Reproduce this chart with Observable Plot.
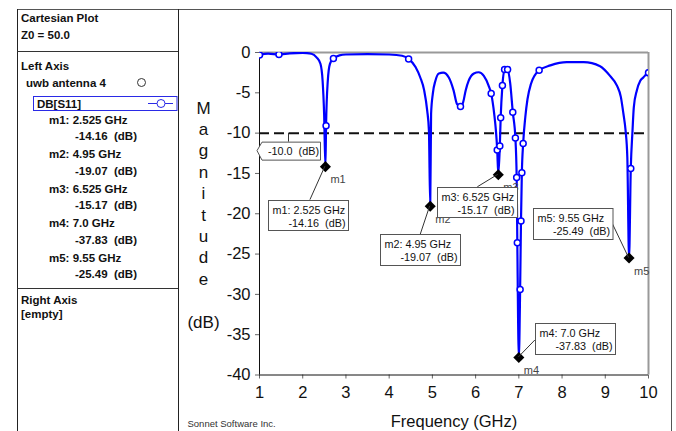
<!DOCTYPE html>
<html>
<head>
<meta charset="utf-8">
<script src="https://cdn.jsdelivr.net/npm/d3@7"></script>
<script src="https://cdn.jsdelivr.net/npm/@observablehq/plot@0.6"></script>
<style>
  html, body { margin: 0; padding: 0; background: #fff; }
  #wrap { position: relative; width: 676px; height: 431px; overflow: hidden; background: #fff; }
  #wrap > svg, #wrap > figure { position: absolute; left: 0; top: 0; margin: 0; }
</style>
</head>
<body>
<div id="wrap"></div>
<script>
// ---------------- data ----------------
const freqGHz = [
  1.0, 1.2, 1.45, 1.7, 2.0, 2.2, 2.32, 2.41, 2.46, 2.495,
  2.525, 2.54, 2.58, 2.63, 2.71, 2.85, 3.0, 3.5, 4.0, 4.3,
  4.45, 4.61, 4.72, 4.81, 4.88, 4.92, 4.95, 4.97, 5.01, 5.07,
  5.15, 5.25, 5.38, 5.49, 5.57, 5.65, 5.71, 5.77, 5.84, 5.96,
  6.07, 6.19, 6.30, 6.36, 6.43, 6.47, 6.50, 6.525, 6.56, 6.58,
  6.62, 6.67, 6.74, 6.80, 6.86, 6.92, 6.95, 6.965, 7.0, 7.03,
  7.05, 7.07, 7.10, 7.15, 7.20, 7.28, 7.47, 7.73, 8.11, 8.5,
  8.88, 9.11, 9.27, 9.36, 9.42, 9.47, 9.51, 9.55, 9.59, 9.63,
  9.66, 9.73, 9.81, 9.88, 9.97, 10.0
];
const s11dB = [
  -0.3, -0.15, -0.25, -0.1, -0.05, -0.15, -0.6, -1.4, -3.5, -7.6,
  -14.16, -9.07, -3.5, -1.4, -0.75, -0.35, -0.25, -0.2, -0.25, -0.4,
  -0.8, -1.8, -3.1, -4.7, -7.2, -9.7, -19.07, -7.6, -5.1, -3.5,
  -2.6, -2.5, -3.1, -4.7, -6.4, -6.7, -6.2, -4.7, -3.5, -2.6,
  -2.45, -2.9, -4.1, -5.1, -7.6, -9.7, -12.1, -15.17, -11.6, -8.1,
  -4.1, -2.1, -2.1, -3.8, -7.4, -10.6, -15.5, -23.6, -37.83, -29.4,
  -20.9, -14.9, -11.3, -8.0, -5.8, -3.9, -2.2, -1.6, -1.2, -1.2,
  -1.7, -2.9, -4.1, -5.5, -7.6, -9.7, -13.0, -25.49, -14.4, -9.7,
  -6.8, -4.7, -3.5, -3.1, -2.6, -2.5
];
// frequencies where the simulator's sample points are drawn (open circles)
const sampleFreqs = [1.0, 1.45, 2.54, 2.71, 4.45, 5.65, 6.36, 6.50, 6.56, 6.58, 6.62, 6.67,
  6.74, 6.86, 6.92, 6.95, 6.965, 7.03, 7.05, 7.07, 7.10, 7.47, 9.59, 10.0];

const markerNames = ["m1", "m2", "m3", "m4", "m5"];
const markerFreq  = [2.525, 4.95, 6.525, 7.0, 9.55];
const markerDb    = [-14.16, -19.07, -15.17, -37.83, -25.49];

const xTicks = [1, 2, 3, 4, 5, 6, 7, 8, 9, 10];
const yTicks = [0, -5, -10, -15, -20, -25, -30, -35, -40];
const refLevel = -10;
const refLabel = "-10.0  (dB)";

const xLabel = "Frequency (GHz)";
const yLabel = "M\na\ng\nn\ni\nt\nu\nd\ne\n\u00a0\n(dB)";
const credit = "Sonnet Software Inc.";

const panelTitle = "Cartesian Plot";
const panelZ0 = "Z0 = 50.0";
const leftAxisTitle = "Left Axis";
const projectName = "uwb antenna 4";
const traceName = "DB[S11]";
const rightAxisTitle = "Right Axis";
const rightAxisValue = "[empty]";

// ---------------- layout / style (not data) ----------------
const FONT = '"Liberation Sans", Arial, Helvetica, sans-serif';
const BLUE = "#0000ff";
// annotation box placement relative to its marker, in px
const boxLayout = [
  {bx: -57, by: 33.5, w: 80, h: 30, lx: -15, ly: 33.5},
  {bx: -50, by: 28.5, w: 80, h: 31, lx: -9.5, ly: 28.5},
  {bx: -61, by: 12.5, w: 80, h: 30, lx: -20.5, ly: 12.5},
  {bx: 16.5, by: -34, w: 80, h: 31, lx: 16.5, ly: -17},
  {bx: -95.5, by: -49.5, w: 79.5, h: 31, lx: -16.5, ly: -34.5}
];

const fmtF = d => Number.isInteger(d) ? d.toFixed(1) : String(d);
const fmtDb = d => d.toFixed(2);

const curve = freqGHz.map((f, i) => ({f, db: s11dB[i]}));
const samples = curve.filter(d => sampleFreqs.includes(d.f));
const markers = markerNames.map((name, i) => ({name, f: markerFreq[i], db: markerDb[i]}));

const annotations = (index, scales) => {
  const sx = scales.x, sy = scales.y;
  const g = d3.create("svg:g").attr("font-family", FONT).attr("font-size", 10.8).attr("fill", "#111")
    .attr("text-anchor", "start");
  // reference level label
  const x0 = sx(xTicks[0]), y0 = sy(refLevel);
  g.append("line").attr("x1", x0 + 29.5).attr("x2", x0 + 29.5).attr("y1", y0).attr("y2", y0 + 9)
    .attr("stroke", "#333");
  g.append("path")
    .attr("d", `M${x0 - 2},${y0 + 18}L${x0 + 3},${y0 + 9.5}H${x0 + 61.5}V${y0 + 27.5}H${x0 + 3}Z`)
    .attr("fill", "white").attr("stroke", "#555");
  g.append("text").attr("x", x0 + 9).attr("y", y0 + 18.5).attr("dy", "0.35em")
    .attr("text-anchor", "start").style("white-space", "pre").text(refLabel);
  markers.forEach((m, i) => {
    const mx = sx(m.f), my = sy(m.db), L = boxLayout[i];
    g.append("line").attr("x1", mx).attr("y1", my).attr("x2", mx + L.lx).attr("y2", my + L.ly)
      .attr("stroke", "#333");
    const bx = Math.round(mx + L.bx) + 0.5, by = Math.round(my + L.by) + 0.5;
    g.append("rect").attr("x", bx).attr("y", by).attr("width", L.w).attr("height", L.h)
      .attr("fill", "white").attr("stroke", "#555");
    g.append("text").attr("x", bx + 4).attr("y", by + 10).attr("dy", "0.35em")
      .attr("text-anchor", "start").style("white-space", "pre").text(`${m.name}: ${fmtF(m.f)} GHz`);
    g.append("text").attr("x", bx + L.w - 3).attr("y", by + 22.5).attr("dy", "0.35em")
      .attr("text-anchor", "end").style("white-space", "pre").text(`${fmtDb(m.db)}  (dB)`);
  });
  return g.node();
};

const chart = Plot.plot({
  width: 676,
  height: 431,
  marginLeft: 259,
  marginRight: 28,
  marginTop: 52,
  marginBottom: 56.5,
  style: {fontFamily: FONT, background: "transparent", color: "#111"},
  x: {domain: [1, 10]},
  y: {domain: [-40, 0]},
  marks: [
    Plot.axisX({ticks: xTicks, tickSize: 4, tickPadding: 7, fontSize: 16.5, label: null, tickFormat: d => String(d)}),
    Plot.axisY({ticks: yTicks, tickSize: 4, tickPadding: 5, fontSize: 16.5, label: null, tickFormat: d => String(d)}),
    Plot.ruleY([0], {stroke: "#999", strokeWidth: 2}),
    Plot.ruleX([10], {stroke: "#999", strokeWidth: 2}),
    Plot.ruleX([1], {stroke: "#111"}),
    Plot.ruleY([-40], {stroke: "#111"}),
    Plot.ruleY([refLevel], {stroke: "#111", strokeWidth: 2, strokeDasharray: "10,5"}),
    Plot.line(curve, {x: "f", y: "db", stroke: BLUE, strokeWidth: 2.2, curve: "monotone-x", clip: true}),
    Plot.dot(samples, {x: "f", y: "db", r: 3, fill: "white", stroke: BLUE, strokeWidth: 1.5, clip: true}),
    Plot.dot(markers, {x: "f", y: "db", symbol: "diamond2", r: 5, fill: "black", stroke: "none"}),
    Plot.text(markers, {x: "f", y: "db", text: "name", dx: 5, dy: 13, textAnchor: "start", fontSize: 11, fill: "#444"}),
    annotations,
    Plot.text([yLabel], {text: d => d, frameAnchor: "left", dx: -56, textAnchor: "middle", lineAnchor: "middle",
      lineHeight: 1.26, fontSize: 17, fill: "#111"}),
    Plot.text([xLabel], {text: d => d, frameAnchor: "bottom", dy: 47, textAnchor: "middle", lineAnchor: "middle",
      fontSize: 16.5, fill: "#111"}),
    Plot.text([credit], {text: d => d, frameAnchor: "bottom-left", dx: -72, dy: 49, textAnchor: "start",
      lineAnchor: "middle", fontSize: 9.5, fill: "#333"})
  ]
});

const wrap = document.getElementById("wrap");
wrap.appendChild(chart);
d3.select(chart).selectAll('g[aria-label="y-axis tick"], g[aria-label="x-axis tick"]').attr("stroke", "#666");

// ---------------- left panel (legend) ----------------
const ov = d3.select(wrap).append("svg")
  .attr("width", 676).attr("height", 431)
  .style("pointer-events", "none");
const line = (x1, y1, x2, y2, c) => ov.append("line").attr("x1", x1).attr("y1", y1).attr("x2", x2).attr("y2", y2)
  .attr("stroke", c).attr("stroke-width", 1);
line(17, 9.5, 672, 9.5, "#555");
line(17.5, 9, 17.5, 431, "#222");
line(178.5, 9, 178.5, 431, "#222");
line(671.5, 9, 671.5, 431, "#555");
line(17, 51.5, 178, 51.5, "#333");
line(17, 288.5, 178, 288.5, "#333");

const ptext = (t, x, y) => ov.append("text").attr("x", x).attr("y", y).attr("dy", "0.35em")
  .attr("font-family", FONT).attr("font-weight", "bold").attr("font-size", 11.5).attr("fill", "#111")
  .style("white-space", "pre").text(t);

ptext(panelTitle, 21, 18);
ptext(panelZ0, 21, 35);
ptext(leftAxisTitle, 21, 66);
ptext(projectName, 26, 83);
ov.append("circle").attr("cx", 141.5).attr("cy", 82.5).attr("r", 4).attr("fill", "white").attr("stroke", "#333");
ov.append("rect").attr("x", 33.5).attr("y", 96.5).attr("width", 143.5).attr("height", 14)
  .attr("fill", "white").attr("stroke", "#2a2ae6");
ptext(traceName, 37, 103.5);
line(148, 103.5, 173, 103.5, "#2a2ae6");
ov.append("circle").attr("cx", 161).attr("cy", 103.5).attr("r", 4).attr("fill", "white").attr("stroke", "#2a2ae6");
markers.forEach((m, i) => {
  const y = 119.5 + i * 34.5;
  ptext(`${m.name}: ${fmtF(m.f)} GHz`, 49, y);
  ptext(`${fmtDb(m.db)}  (dB)`, 75, y + 16.5);
});
ptext(rightAxisTitle, 21, 300);
ptext(rightAxisValue, 21, 314);
</script>
</body>
</html>
